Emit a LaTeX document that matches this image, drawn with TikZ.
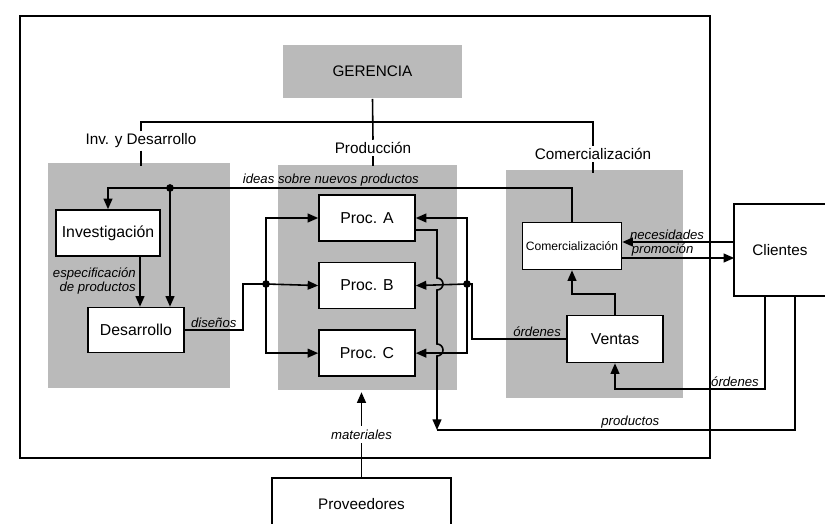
\documentclass[tikz,border=0pt]{standalone}
\usepackage{fontspec}
\setmainfont{Liberation Sans}
\usetikzlibrary{positioning,arrows.meta}
\tikzset{
  box/.style={draw, fill=white, font=\fontsize{9}{10}\selectfont},
  area/.style={fill=black!27},
  dept/.style={font=\fontsize{8.7}{10}\selectfont, inner sep=1pt},
  lbl/.style={font=\fontsize{7.5}{8}\selectfont\itshape, inner sep=0.8pt},
  arr/.style={-{Triangle[length=6pt,width=5pt]}},
}
\begin{document}
\begin{tikzpicture}[x=0.02cm, y=-0.02cm, line width=0.9pt]
\useasboundingbox (0,0) rectangle (825,524);
% areas sombreadas
\fill[area] (48,163) rectangle (230,388);
\fill[area] (278,165) rectangle (457,390);
\fill[area] (506,170) rectangle (683,398);
\draw (20,16) rectangle (710,458);
% organigrama
\node[area, dept, minimum width=3.58cm, minimum height=1.06cm] (gerencia) at (372.5,71.5) {GERENCIA};
\node[dept] (invdes) at (141,141) {Inv. y Desarrollo};
\node[dept] (produccion) at (373,148) {Producción};
\node[dept] (comercial) at (593,154) {Comercialización};
\coordinate (bar) at (372.5,122);
\draw (gerencia.south) -- (produccion.north);
\draw (invdes.north) |- (bar) -| (comercial.north);
\draw (invdes.south) -- ++(0,15);
\draw (produccion.south) -- ++(0,10);
\draw (comercial.south) -- ++(0,11);
% bloques
\node[box, minimum width=1.96cm, minimum height=0.92cm] (investigacion) at (108,233) {Investigación};
\node[box, minimum width=1.92cm, minimum height=0.9cm] (desarrollo) at (136,330) {Desarrollo};
\node[box, minimum width=1.92cm, minimum height=0.92cm] (proca) at (367,218) {Proc. A};
\node[box, minimum width=1.92cm, minimum height=0.92cm, below=0.4cm of proca] (procb) {Proc. B};
\node[box, minimum width=1.92cm, minimum height=0.92cm, below=0.4cm of procb] (procc) {Proc. C};
\node[box, minimum width=1.98cm, minimum height=0.94cm, inner sep=1pt, font=\fontsize{6.9}{8}\selectfont] (comerc) at (572,246) {Comercialización};
\node[box, minimum width=1.92cm, minimum height=0.94cm] (ventas) at (615,339) {Ventas};
\node[dept, minimum width=1.8cm, minimum height=1.82cm] (clientes) at (780,250) {Clientes};
\draw (clientes.north east) -- (clientes.north west) -- (clientes.south west) -- (clientes.south east);
\node[dept, minimum width=3.54cm, minimum height=1.02cm] (proveedores) at (361.5,504.5) {Proveedores};
\draw (proveedores.south west) -- (proveedores.north west) -- (proveedores.north east) -- (proveedores.south east);
% flujos
\coordinate (ideas) at (170,188);
\coordinate (espec) at (140,256);
\coordinate (fork1) at (266,284);
\coordinate (fork2) at (467,284);
\coordinate (prod) at (437,430);
\draw[arr] (comerc.north) |- node[lbl, pos=0.8, above] {ideas sobre nuevos productos} (ideas) -| (investigacion.north);
\draw[arr] (ideas) -- (ideas |- desarrollo.north);
\draw[arr] (espec) -- node[lbl, left, align=right, inner sep=2pt] {especificación\\de productos} (espec |- desarrollo.north);
\draw (desarrollo.east) -- node[lbl, above] {diseños} ++(58,0) |- (fork1);
\draw[arr] (fork1) -- (procb.west);
\draw[arr] (fork1) |- (proca.west);
\draw[arr] (fork1) |- (procc.west);
\draw (ventas.west) -- node[lbl, above, pos=0.31] {órdenes} ++(-94,0) |- (fork2);
\draw[arr] (fork2) -- (procb.east);
\draw[arr] (fork2) |- (proca.east);
\draw[arr] (fork2) |- (procc.east);
\fill (ideas) circle (2.2pt);
\fill (fork1) circle (2.2pt);
\fill (fork2) circle (2.2pt);
\draw[arr] ([yshift=-0.24cm]proca.east) -- (437,230) -- (437,278)
  arc[start angle=90, end angle=-90, radius=0.12cm] -- (437,344)
  arc[start angle=90, end angle=-90, radius=0.12cm] -- (prod);
\draw ([xshift=0.3cm]clientes.south) |- node[lbl, pos=0.73, above] {productos} (prod);
\draw[arr] ([xshift=-0.3cm]clientes.south) -- ++(0,93) -| node[lbl, pos=0.1, above] {órdenes} (ventas.south);
\draw[arr] (ventas.north) -- ++(0,-21) -| (comerc.south);
\draw[arr] ([yshift=0.16cm]clientes.west) -- node[lbl, pos=0.6, above] {necesidades} ([yshift=0.16cm]clientes.west -| comerc.east);
\draw[arr] ([yshift=-0.16cm]clientes.west -| comerc.east) -- node[lbl, pos=0.36, above] {promoción} ([yshift=-0.16cm]clientes.west);
\draw[arr] (proveedores.north) -- node[lbl, fill=white, inner sep=2pt, pos=0.51] {materiales} ++(0,-86);
\end{tikzpicture}
\end{document}
